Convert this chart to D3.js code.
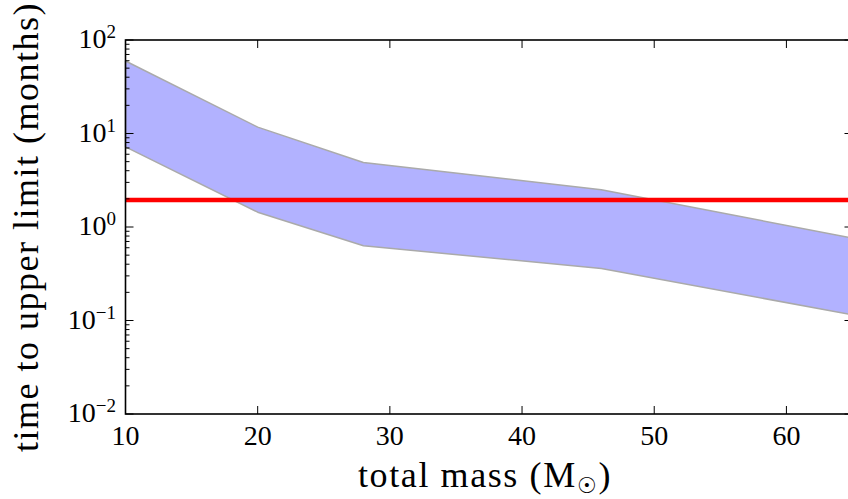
<!DOCTYPE html>
<html>
<head>
<meta charset="utf-8">
<script src="https://cdn.jsdelivr.net/npm/d3@7"></script>
<style>
  body { margin: 0; background: #fff; }
  svg { display: block; }
  text { font-family: "Liberation Serif", "DejaVu Serif", serif; fill: #000; }
</style>
</head>
<body>
<div class="chart"></div>
<script>
// total mass (solar masses) and band edges (months)
var mass = [10, 20, 28, 46, 65];
var upper = [59.6, 11.7, 4.9, 2.5, 0.76];
var lower = [7.2, 1.44, 0.63, 0.36, 0.115];
var limit = 1.94;

var xTicks = [10, 20, 30, 40, 50, 60];
var yExps = [-2, -1, 0, 1, 2];

var width = 848, height = 499;
var pLeft = 125.5, pRight = 852.5, pTop = 40, pBottom = 414;

var svg = d3.select(".chart")
    .append("svg")
    .attr("width", width)
    .attr("height", height)

var x = d3.scaleLinear().domain([10, 65]).range([pLeft, pRight]);
var y = d3.scaleLog().domain([1e-2, 1e2]).range([pBottom, pTop]);

var band = mass.map(function (m, i) { return { m: m, lo: lower[i], hi: upper[i] }; });

var area = d3.area()
    .x(function (d) { return x(d.m); })
    .y0(function (d) { return y(d.lo); })
    .y1(function (d) { return y(d.hi); });

svg.append("path")
    .datum(band)
    .attr("d", area)
    .style("fill", "#b2b2ff")
    .style("stroke", "#aaaaaa")
    .style("stroke-width", 1.5)
    .style("stroke-linejoin", "round")

svg.append("line")
    .attr("x1", pLeft)
    .attr("x2", pRight)
    .attr("y1", y(limit))
    .attr("y2", y(limit))
    .style("stroke", "#ff0000")
    .style("stroke-width", 4.5)

// ticks on all four sides, pointing inward
var ticks = svg.append("g").style("stroke", "#000").style("stroke-width", 1);

xTicks.forEach(function (t) {
    ticks.append("line").attr("x1", x(t)).attr("x2", x(t)).attr("y1", pBottom).attr("y2", pBottom - 8);
    ticks.append("line").attr("x1", x(t)).attr("x2", x(t)).attr("y1", pTop).attr("y2", pTop + 8);
});

y.ticks().forEach(function (t) {
    var major = Math.abs(Math.log10(t) - Math.round(Math.log10(t))) < 1e-9;
    var len = major ? 8 : 4;
    ticks.append("line").attr("x1", pLeft).attr("x2", pLeft + len).attr("y1", y(t)).attr("y2", y(t));
    ticks.append("line").attr("x1", pRight).attr("x2", pRight - len).attr("y1", y(t)).attr("y2", y(t));
});

svg.append("rect")
    .attr("x", pLeft)
    .attr("y", pTop)
    .attr("width", pRight - pLeft)
    .attr("height", pBottom - pTop)
    .style("fill", "none")
    .style("stroke", "#000")
    .style("stroke-width", 1.6)

// tick labels
xTicks.forEach(function (t) {
    svg.append("text")
        .attr("x", x(t))
        .attr("y", pBottom + 31)
        .attr("text-anchor", "middle")
        .style("font-size", "28px")
        .text(t)
});

yExps.forEach(function (e) {
    var lab = svg.append("text")
        .attr("x", 116)
        .attr("y", y(Math.pow(10, e)) + 8)
        .attr("text-anchor", "end")
        .style("font-size", "28px")
    lab.append("tspan").text("10")
    lab.append("tspan")
        .attr("dy", -10)
        .style("font-size", "19px")
        .text(e < 0 ? "\u2212" + Math.abs(e) : e)
});

// axis labels
var xl = svg.append("text")
    .attr("x", 485)
    .attr("y", 487)
    .attr("text-anchor", "middle")
    .style("font-size", "36px")
    .style("letter-spacing", "1.6px")
xl.append("tspan").text("total mass (M")
xl.append("tspan").attr("dy", 6).style("font-size", "22px").style("font-family", "DejaVu Serif").text("\u2609")
xl.append("tspan").attr("dy", -6).text(")")

svg.append("text")
    .attr("transform", "translate(38," + ((pTop + pBottom) / 2) + ") rotate(-90)")
    .attr("text-anchor", "middle")
    .style("font-size", "36px")
    .style("letter-spacing", "1.5px")
    .text("time to upper limit (months)")
</script>
</body>
</html>
